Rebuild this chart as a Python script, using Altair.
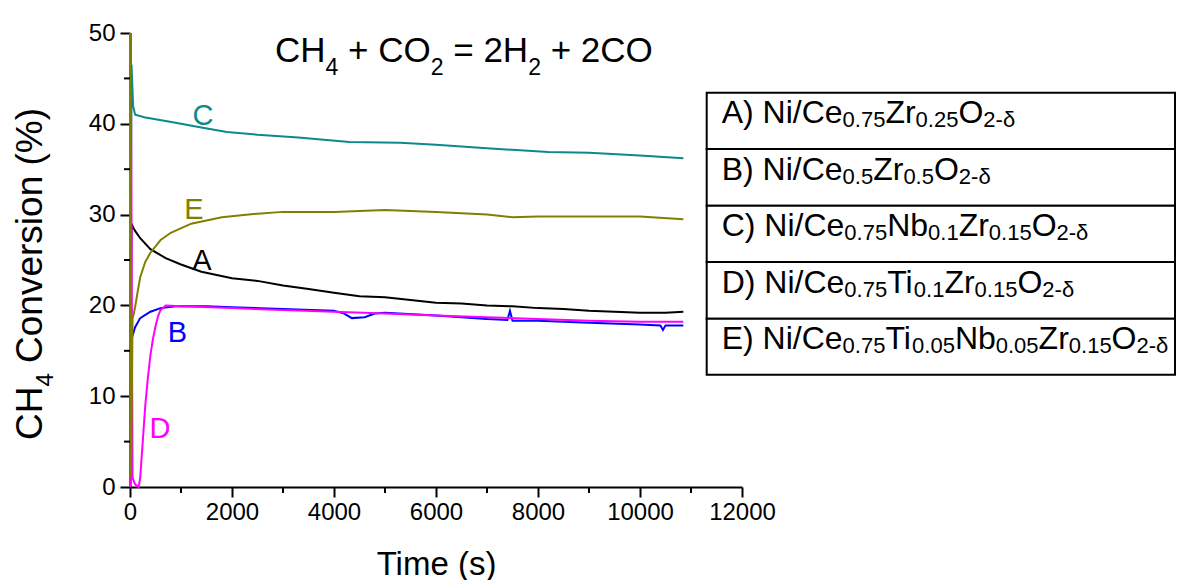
import altair as alt
import pandas as pd

FONT = "Liberation Sans"

# ---------------- data ----------------
series = ["A", "B", "C", "D", "E"]
colors = ["#000000", "#0000ff", "#0a8a8a", "#ff00ff", "#808000"]

A_t = [0, 30, 60, 100, 200, 400, 700, 1000, 1400, 2000, 2500, 3000, 3500, 4000, 4500,
       5000, 5500, 6000, 6500, 7000, 7500, 8000, 8500, 9000, 9500, 10000, 10500, 10850]
A_v = [0, 29.0, 28.6, 28.2, 27.4, 26.2, 25.2, 24.5, 23.7, 23.0, 22.7, 22.2, 21.8, 21.4, 21.0,
       20.9, 20.6, 20.3, 20.2, 20.0, 19.9, 19.7, 19.6, 19.4, 19.3, 19.2, 19.2, 19.3]

B_t = [0, 40, 100, 200, 400, 600, 900, 1500, 2000, 3000, 4000, 4200, 4350, 4600, 4800,
       5000, 6000, 7000, 7400, 7450, 7500, 8000, 9000, 10000, 10400, 10450, 10500, 10850]
B_v = [0, 16.5, 17.6, 18.6, 19.3, 19.7, 19.9, 19.9, 19.8, 19.6, 19.4, 19.1, 18.6, 18.7, 19.1,
       19.2, 18.9, 18.5, 18.4, 19.4, 18.3, 18.3, 18.1, 17.9, 17.8, 17.3, 17.8, 17.8]

C_t = [0, 30, 60, 100, 300, 700, 1000, 1400, 1900, 2500, 3300, 4300, 5300, 6000, 7000,
       8200, 9000, 10000, 10850]
C_v = [0, 46.5, 42.0, 41.0, 40.7, 40.3, 40.0, 39.6, 39.1, 38.8, 38.5, 38.0, 37.9, 37.7, 37.3,
       36.9, 36.8, 36.5, 36.2]

D_t = [0, 15, 50, 100, 170, 200, 250, 300, 350, 400, 450, 500, 550, 600, 700, 1000, 2000,
       3000, 4000, 5000, 6000, 7000, 8000, 9000, 10000, 10850]
D_v = [0, 50, 1.0, 0.3, 0.0, 1.0, 5.0, 9.0, 12.0, 14.5, 16.3, 17.7, 18.8, 19.5, 20.0, 19.9, 19.7,
       19.5, 19.3, 19.1, 18.9, 18.7, 18.5, 18.3, 18.2, 18.2]

E_t = [0, 20, 50, 100, 150, 200, 300, 400, 600, 800, 1200, 1800, 2500, 3000, 4000, 5000,
       5500, 6000, 7000, 7500, 8000, 9000, 10000, 10850]
E_v = [50, 1.0, 18.5, 19.8, 21.5, 23.1, 24.8, 25.8, 27.2, 28.0, 29.0, 29.7, 30.1, 30.3, 30.3,
       30.5, 30.4, 30.3, 30.0, 29.7, 29.8, 29.8, 29.8, 29.5]

# in-plot letter labels (data coordinates)
lab_letter = ["C", "E", "A", "B", "D"]
lab_t = [1431, 1255, 1412, 931, 588]
lab_v = [39.9, 29.5, 23.9, 16.0, 5.4]

x_ticks = [0, 2000, 4000, 6000, 8000, 10000, 12000]
x_minor = [1000, 3000, 5000, 7000, 9000, 11000]
y_ticks = [0, 10, 20, 30, 40, 50]
y_minor = [5, 15, 25, 35, 45]

# rich text pieces: (text, is_subscript)
title_segs = [("CH", 0), ("4", 1), (" + CO", 0), ("2", 1), (" = 2H", 0), ("2", 1), (" + 2CO", 0)]
ytitle_segs = [("CH", 0), ("4", 1), (" Conversion (%)", 0)]
legend_rows = [
    [("A) Ni/Ce", 0), ("0.75", 1), ("Zr", 0), ("0.25", 1), ("O", 0), ("2-δ", 1)],
    [("B) Ni/Ce", 0), ("0.5", 1), ("Zr", 0), ("0.5", 1), ("O", 0), ("2-δ", 1)],
    [("C) Ni/Ce", 0), ("0.75", 1), ("Nb", 0), ("0.1", 1), ("Zr", 0), ("0.15", 1), ("O", 0), ("2-δ", 1)],
    [("D) Ni/Ce", 0), ("0.75", 1), ("Ti", 0), ("0.1", 1), ("Zr", 0), ("0.15", 1), ("O", 0), ("2-δ", 1)],
    [("E) Ni/Ce", 0), ("0.75", 1), ("Ti", 0), ("0.05", 1), ("Nb", 0), ("0.05", 1), ("Zr", 0),
     ("0.15", 1), ("O", 0), ("2-δ", 1)],
]

# ---------------- layout ----------------
W, H = 612, 454
PAD = {"left": 122, "top": 25, "right": 434, "bottom": 93}

CW = {' ': 278, '+': 584, '=': 584, '.': 278, '-': 333, '(': 333, ')': 333, '%': 889, '/': 278,
      'A': 667, 'B': 667, 'C': 722, 'D': 722, 'E': 667, 'H': 722, 'N': 722, 'O': 778, 'T': 611,
      'Z': 611, 'b': 556, 'e': 556, 'i': 222, 'r': 333, 'o': 556, 'n': 556, 'v': 500, 's': 500,
      'm': 833, 'δ': 556}


def tw(s, fs):
    return sum(CW.get(ch, 556) for ch in s) * fs / 1000.0


def layout(segs, x0, y0, fm, fsub, drop, vertical=False):
    rows = []
    pos = 0.0
    for txt, sub in segs:
        fs = fsub if sub else fm
        lead = len(txt) - len(txt.lstrip(' '))
        start = pos + tw(txt[:lead], fs)
        pos += tw(txt, fs)
        body = txt.strip(' ')
        if not body:
            continue
        if vertical:
            rows.append(dict(px=x0 + (drop if sub else 0), py=y0 - start, text=body, sub=sub))
        else:
            rows.append(dict(px=x0 + start, py=y0 + (drop if sub else 0), text=body, sub=sub))
    return rows


def text_layers(rows, fm, fsub, angle=0):
    df = pd.DataFrame(rows)
    out = []
    for sub, fs in ((0, fm), (1, fsub)):
        d = df[df["sub"] == sub]
        if len(d) == 0:
            continue
        out.append(alt.Chart(d).mark_text(font=FONT, fontSize=fs, align="left",
                                          baseline="alphabetic", angle=angle, color="black")
                   .encode(x=alt.X("px:Q", scale=None), y=alt.Y("py:Q", scale=None), text="text:N"))
    return out


# ---------------- build ----------------
recs = []
for s, ts, vs in zip(series, [A_t, B_t, C_t, D_t, E_t], [A_v, B_v, C_v, D_v, E_v]):
    for t, v in zip(ts, vs):
        recs.append(dict(s=s, t=t, v=v))
df_lines = pd.DataFrame(recs)

xscale = alt.Scale(domain=[0, 12000], nice=False, zero=False)
yscale = alt.Scale(domain=[0, 50], nice=False, zero=False)
cscale = alt.Scale(domain=series, range=colors)

axis_common = dict(domainColor="black", domainWidth=2, tickColor="black", tickWidth=2,
                   tickSize=10, labelFont=FONT, labelFontSize=24, labelColor="black",
                   grid=False, format="d")

lines = alt.Chart(df_lines).mark_line(strokeWidth=2).encode(
    x=alt.X("t:Q", scale=xscale,
            axis=alt.Axis(values=x_ticks, title="Time (s)", titleFont=FONT, titleFontSize=33,
                          titleFontWeight="normal", titleColor="black", titlePadding=24,
                          labelPadding=3, labelFlush=False, **axis_common)),
    y=alt.Y("v:Q", scale=yscale,
            axis=alt.Axis(values=y_ticks, title=None, labelPadding=5, **axis_common)),
    color=alt.Color("s:N", scale=cscale, legend=None),
    detail="s:N",
)

labels = alt.Chart(pd.DataFrame(dict(t=lab_t, v=lab_v, s=lab_letter))).mark_text(
    font=FONT, fontSize=29, align="center", baseline="alphabetic"
).encode(x=alt.X("t:Q", scale=xscale), y=alt.Y("v:Q", scale=yscale),
         text="s:N", color=alt.Color("s:N", scale=cscale, legend=None))

xminor = alt.Chart(pd.DataFrame(dict(t=x_minor))).mark_rule(color="black", strokeWidth=2).encode(
    x=alt.X("t:Q", scale=xscale), y=alt.value(H), y2=alt.value(H + 6))
yminor = alt.Chart(pd.DataFrame(dict(v=y_minor))).mark_rule(color="black", strokeWidth=2).encode(
    y=alt.Y("v:Q", scale=yscale), x=alt.value(0), x2=alt.value(-6))

# legend table
tab_left, tab_right = 576.7, 1045
row_tops = [59.7, 116, 172.7, 229, 285.7, 341.7]
rect_df = pd.DataFrame(dict(x=[tab_left] * 5, x2=[tab_right] * 5, y=row_tops[:5], y2=row_tops[1:]))
table = alt.Chart(rect_df).mark_rect(fill="white", stroke="black", strokeWidth=2).encode(
    x=alt.X("x:Q", scale=None), x2="x2:Q", y=alt.Y("y:Q", scale=None), y2="y2:Q")

text_rows = []
for i, segs in enumerate(legend_rows):
    text_rows += layout(segs, 591.7, row_tops[i] + 30.6, 32, 22, 4)
legend_text = text_layers(text_rows, 32, 22)

title_text = text_layers(layout(title_segs, 145, 28.7, 35, 23, 13), 35, 23)
ytitle_text = text_layers(layout(ytitle_segs, -88, 407, 37, 24, 11, vertical=True), 37, 24, angle=270)

chart = alt.layer(table, lines, xminor, yminor, labels, *legend_text, *title_text, *ytitle_text).properties(
    width=W, height=H,
    autosize=alt.AutoSizeParams(type="none"),
    padding=PAD,
).configure(background="white").configure_view(stroke=None, strokeWidth=0)

chart.save("out.html", embed_options={"renderer": "svg", "actions": False})
